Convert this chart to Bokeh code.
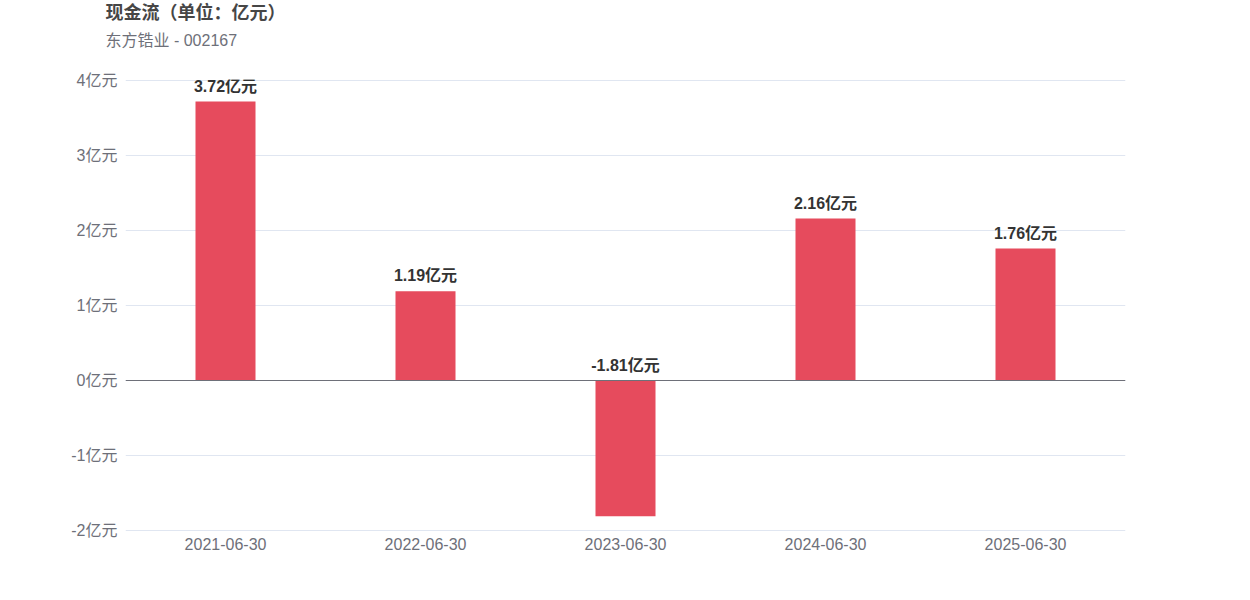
from bokeh.plotting import figure
from bokeh.models import (ColumnDataSource, FactorRange, Range1d, FixedTicker,
                          Span, Title, LabelSet)
from bokeh.core.properties import value
from bokeh.embed import file_html
from bokeh.resources import INLINE

categories = ["2021-06-30", "2022-06-30", "2023-06-30", "2024-06-30", "2025-06-30"]
values = [3.72, 1.19, -1.81, 2.16, 1.76]
y_ticks = [-2, -1, 0, 1, 2, 3, 4]
y_tick_labels = ["-2亿元", "-1亿元", "0亿元", "1亿元", "2亿元", "3亿元", "4亿元"]
bar_labels = [f"{v:.2f}亿元" for v in values]
title_text = "现金流（单位：亿元）"
subtitle_text = "东方锆业 - 002167"

FONT = "Liberation Sans, Noto Sans CJK SC"

src = ColumnDataSource(dict(
    x=categories,
    top=values,
    label=bar_labels,
    ly=[max(v, 0) for v in values],
))

pad = 1.0 / 75.0
FRAME_H = 452
p = figure(
    width=1242, height=592,
    x_range=FactorRange(*categories, range_padding=0),
    y_range=Range1d(-2 - pad, 4 + pad),
    output_backend="svg", toolbar_location=None,
    min_border_left=125, min_border_right=117,
    min_border_top=79, min_border_bottom=592 - 79 - FRAME_H,
)
p.outline_line_color = None
p.background_fill_color = "white"
p.border_fill_color = "white"

# spacer between the frame and the subtitle, then subtitle, then title
p.add_layout(Title(text=" ", text_font_size="1px", standoff=20), "above")
p.add_layout(Title(text=subtitle_text, align="left", offset=-20,
                   text_font_size="16px", text_font_style="normal",
                   text_color="#6e7079", text_font=FONT, standoff=15), "above")
p.add_layout(Title(text=title_text, align="left", offset=-20,
                   text_font_size="18px", text_font_style="bold",
                   text_color="#464646", text_font=FONT, standoff=0), "above")

p.vbar(x="x", top="top", bottom=0, width=0.3, source=src,
       fill_color="#e64b5d", line_color=None)

p.add_layout(Span(location=0, dimension="width", line_color="#6e7079", line_width=1))

labels = LabelSet(x="x", y="ly", text="label", source=src,
                  text_align="center", text_baseline="bottom", y_offset=7,
                  text_font_size="16px", text_font_style="bold",
                  text_color="#333333", text_font=value(FONT))
p.add_layout(labels)

# y axis
p.yaxis.ticker = FixedTicker(ticks=y_ticks)
p.yaxis.major_label_overrides = {t: l for t, l in zip(y_ticks, y_tick_labels)}
p.yaxis.axis_line_color = None
p.yaxis.major_tick_line_color = None
p.yaxis.minor_tick_line_color = None
p.yaxis.major_tick_out = 0
p.yaxis.major_tick_in = 0
p.yaxis.major_label_standoff = 8
p.yaxis.major_label_text_font_size = "16px"
p.yaxis.major_label_text_color = "#6e7079"
p.yaxis.major_label_text_font = FONT

# x axis
p.xaxis.axis_line_color = None
p.xaxis.major_tick_line_color = None
p.xaxis.minor_tick_line_color = None
p.xaxis.major_tick_out = 0
p.xaxis.major_tick_in = 0
p.xaxis.major_label_standoff = 6
p.xaxis.major_label_text_font_size = "16px"
p.xaxis.major_label_text_color = "#6e7079"
p.xaxis.major_label_text_font = FONT

p.xgrid.grid_line_color = None
p.ygrid.grid_line_color = "#e0e6f1"
p.ygrid.grid_line_width = 1

open("out.html", "w").write(file_html(p, INLINE))
